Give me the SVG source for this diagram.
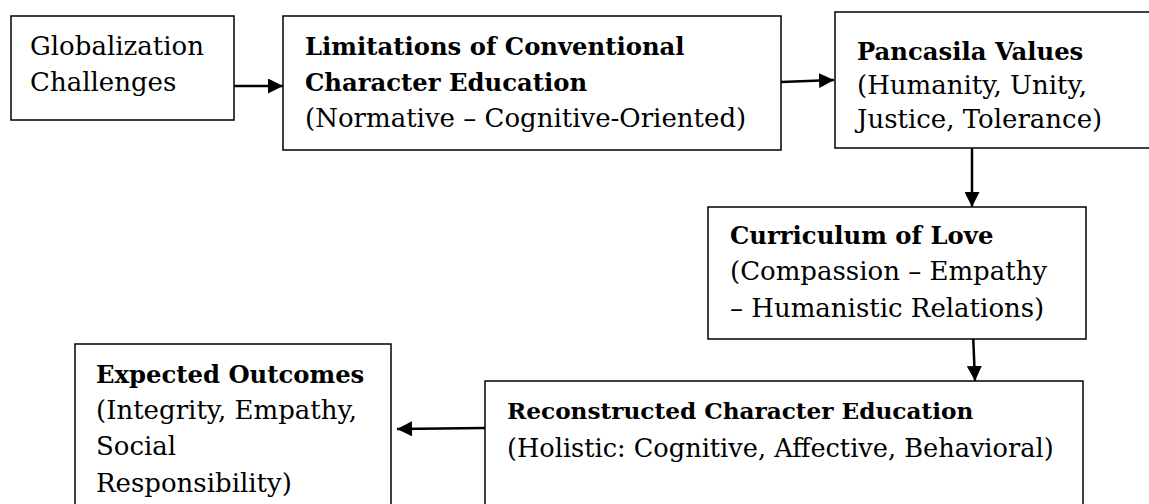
<svg xmlns="http://www.w3.org/2000/svg" width="1149" height="504" viewBox="0 0 1149 504">
<defs>
<style>
.box{fill:#fff;stroke:#000;stroke-width:1.5}
text{font-family:"DejaVu Serif","Liberation Serif",serif;font-size:26px;fill:#000}
.b{font-weight:bold;font-size:24.3px}
.rb{font-weight:bold;font-size:23.2px}
.rr{font-size:25.6px}
.con{stroke:#000;stroke-width:2.5;fill:none}
</style>
<marker id="ah" viewBox="0 0 10 10" refX="10" refY="5" markerWidth="15" markerHeight="15" markerUnits="userSpaceOnUse" orient="auto"><path d="M0,0 L10,5 L0,10 Z" fill="#000"/></marker>
</defs>
<rect width="1149" height="504" fill="#fff"/>
<g id="connectors">
<line class="con" x1="234" y1="86" x2="283" y2="86" marker-end="url(#ah)"/>
<line class="con" x1="781" y1="82" x2="834" y2="80" marker-end="url(#ah)"/>
<line class="con" x1="972" y1="148" x2="972" y2="207" marker-end="url(#ah)"/>
<line class="con" x1="973" y1="333" x2="975" y2="381" marker-end="url(#ah)"/>
<line class="con" x1="485" y1="428" x2="397" y2="429" marker-end="url(#ah)"/>
</g>
<g id="globalization">
<rect class="box" x="11" y="16" width="223" height="104"/>
<text x="30" y="55">Globalization</text>
<text x="30" y="91">Challenges</text>
</g>
<g id="limitations">
<rect class="box" x="283" y="16" width="498" height="134"/>
<text class="b" x="305" y="55">Limitations of Conventional</text>
<text class="b" x="305" y="91">Character Education</text>
<text x="305" y="127">(Normative – Cognitive-Oriented)</text>
</g>
<g id="pancasila">
<rect class="box" x="835" y="12" width="320" height="136"/>
<text class="b" x="857" y="60">Pancasila Values</text>
<text x="857" y="94">(Humanity, Unity,</text>
<text x="857" y="128">Justice, Tolerance)</text>
</g>
<g id="curriculum">
<rect class="box" x="708" y="207" width="378" height="132"/>
<text class="b" x="730" y="244">Curriculum of Love</text>
<text x="730" y="280">(Compassion – Empathy</text>
<text x="730" y="317">– Humanistic Relations)</text>
</g>
<g id="reconstructed">
<rect class="box" x="485" y="381" width="598" height="130"/>
<text class="rb" x="507" y="419">Reconstructed Character Education</text>
<text class="rr" x="507" y="457">(Holistic: Cognitive, Affective, Behavioral)</text>
</g>
<g id="outcomes">
<rect class="box" x="75" y="344" width="316" height="170"/>
<text class="b" x="96" y="383">Expected Outcomes</text>
<text x="96" y="419">(Integrity, Empathy,</text>
<text x="96" y="455">Social</text>
<text x="96" y="492">Responsibility)</text>
</g>
</svg>
